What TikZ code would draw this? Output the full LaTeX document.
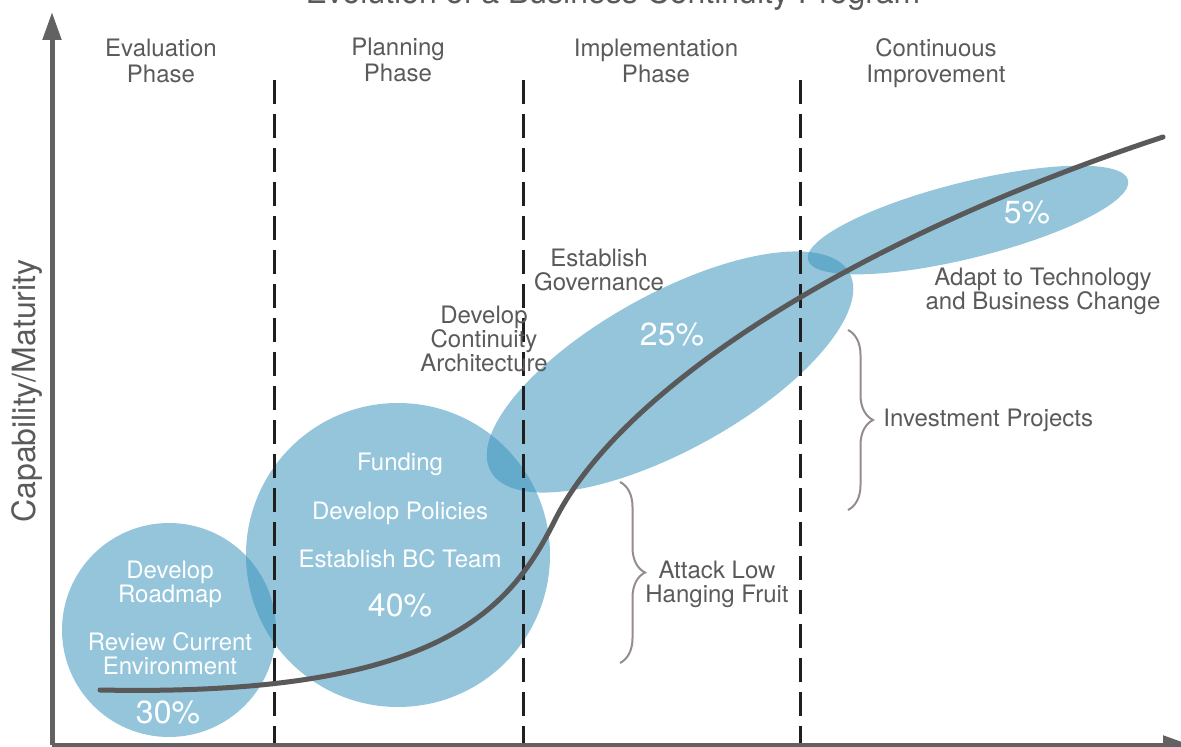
\documentclass[tikz,border=0pt]{standalone}
\usepackage{fontspec}
\setmainfont{TeX Gyre Heros}
\usetikzlibrary{arrows.meta, positioning, decorations.pathreplacing, calc}

\definecolor{axisgray}{RGB}{98,98,98}
\definecolor{textgray}{RGB}{90,90,90}
\definecolor{bracegray}{RGB}{150,140,140}
\definecolor{bubbleblue}{RGB}{60,150,190}

\begin{document}
\begin{tikzpicture}[
    % --- Global styles ---
    x=0.5pt, y=-0.5pt,
    >={Triangle[length=14pt,width=9pt]},
    every node/.style={font=\fontsize{12}{12}\selectfont, text=textgray,
                       align=center, inner sep=0pt},
    % --- Text styles (base = baseline of the last line) ---
    heading/.style={font=\fontsize{16}{18}\selectfont},
    phase/.style={font=\fontsize{12}{13}\selectfont, anchor=base},
    lbl/.style={anchor=base},
    in bubble/.style={anchor=base, text=white},
    pct/.style={anchor=base, text=white, font=\fontsize{16}{18}\selectfont},
    % --- Shapes and lines ---
    bubble/.style={fill=bubbleblue, fill opacity=0.55},
    axis/.style={->, line width=2.5pt, draw=axisgray},
    boundary/.style={line width=1.5pt, draw=black!88, dash pattern=on 12pt off 5pt},
    growth/.style={line width=2.5pt, draw=black!65, line cap=round},
    span brace/.style={draw=bracegray, line width=1pt, decorate,
                       decoration={brace, amplitude=12.5pt}},
  ]

  \useasboundingbox (0,0) rectangle (1181,747);

  %% ---- Bubbles ----
  \fill[bubble] (169,630) circle [radius=53.5pt];
  \fill[bubble] (398,555) circle [radius=76pt];
  \fill[bubble, rotate around={29:(670,372)}] (670,372)
    ellipse [x radius=102.5pt, y radius=39pt];
  \fill[bubble, rotate around={14:(968,220)}] (968,220)
    ellipse [x radius=82.5pt, y radius=19pt];

  %% ---- Axes and phase boundaries ----
  \coordinate (origin) at (52,745);
  \draw[axis] (origin) -- (52,12);
  \draw[axis] (origin) -- (1191,745);

  \foreach \x in {274,523,800}
    \draw[boundary] (\x,80) -- (\x,743);

  %% ---- Growth curve (two Beziers meeting at the inflection) ----
  \coordinate (start) at (100,690);
  \coordinate (bend) at (555,520);
  \coordinate (finish) at (1163,137);
  \draw[growth] (start) .. controls (440,697) and (510,610) .. (bend)
                        .. controls (620,390) and (850,240) .. (finish);

  %% ---- Braces ----
  \draw[span brace] (620,482) -- (620,663);
  \draw[span brace] (848,330) -- (848,510);
  \coordinate (invest tip) at (873,420);

  %% ---- Titles ----
  \node[heading, anchor=base] (title) at (613,4)
    {Evolution of a Business Continuity Program};
  \node[heading, rotate=90] (ylabel) at (27,391) {Capability/Maturity};

  % Phase headings
  \node[phase] (evaluation) at (161,83) {Evaluation\\Phase};
  \node[phase] (planning) at (398,82) {Planning\\Phase};
  \node[phase] (implementation) at (656,83) {Implementation\\Phase};
  \node[phase] (continuous) at (936,83) {Continuous\\Improvement};

  %% ---- Bubble texts ----
  \node[in bubble] (roadmap) at (170,602) {Develop\\Roadmap};
  \node[in bubble] (review) at (170,674) {Review Current\\Environment};
  \node[pct] (pct30) at (168,723) {30\%};

  \node[in bubble] (funding) at (400,471) {Funding};
  \node[in bubble] (policies) at (400,519) {Develop Policies};
  \node[in bubble] (bcteam) at (400,567) {Establish BC Team};
  \node[pct] (pct40) at (400,616) {40\%};

  \node[pct] (pct25) at (672,346) {25\%};
  \node[pct] (pct5) at (1027,224) {5\%};

  %% ---- Outside labels ----
  \node[lbl] (governance) at (599,291) {Establish\\Governance};
  \node[lbl] (architecture) at (484,372) {Develop\\Continuity\\Architecture};
  \node[lbl] (adapt) at (1043,310) {Adapt to Technology\\and Business Change};
  \node[lbl] (lowfruit) at (717,602) {Attack Low\\Hanging Fruit};
  \node[right=5pt of invest tip] (investment) {Investment Projects};

\end{tikzpicture}
\end{document}
